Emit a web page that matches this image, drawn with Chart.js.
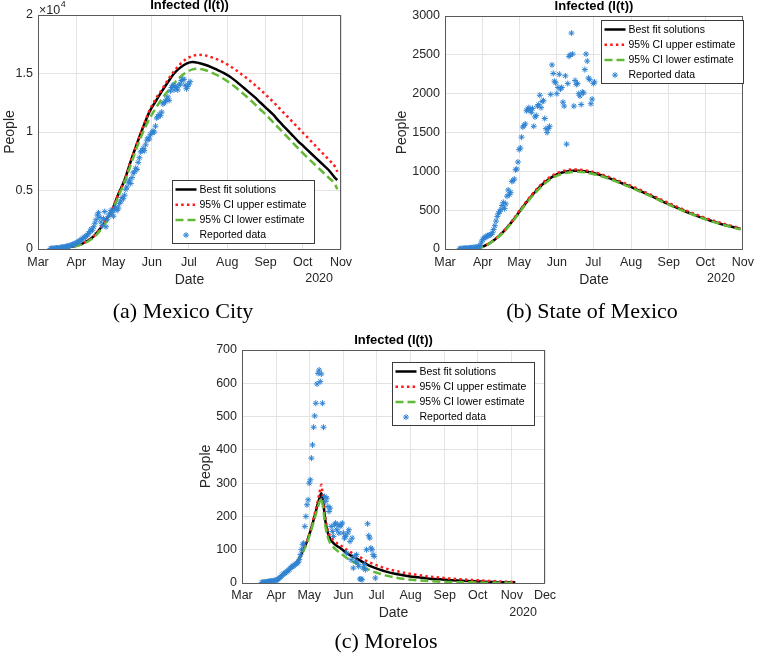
<!DOCTYPE html>
<html>
<head>
<meta charset="utf-8">
<script src="https://cdn.jsdelivr.net/npm/chart.js@4.4.0/dist/chart.umd.min.js"></script>
<style>
  body { margin: 0; background: #fff; width: 760px; height: 657px; position: relative; overflow: hidden; }
  canvas { position: absolute; }
  .cap { position: absolute; font-family: "Liberation Serif", serif; font-size: 22px; color: #000;
         text-align: center; width: 260px; line-height: 26px; white-space: nowrap; }
</style>
</head>
<body>
<canvas id="chartA" width="380" height="300" style="left:0;top:0"></canvas>
<canvas id="chartB" width="380" height="300" style="left:380px;top:0"></canvas>
<canvas id="chartC" width="380" height="310" style="left:190px;top:320px"></canvas>
<div class="cap" style="left:53px;top:298px">(a) Mexico City</div>
<div class="cap" style="left:462px;top:298px">(b) State of Mexico</div>
<div class="cap" style="left:256px;top:628px">(c) Morelos</div>
<script>
// x axis = days after 1 March 2020
const MONTHS = ['Mar', 'Apr', 'May', 'Jun', 'Jul', 'Aug', 'Sep', 'Oct', 'Nov', 'Dec'];
const MONTH_START = [0, 31, 61, 92, 122, 153, 184, 214, 245, 275];
const LEGEND_LABELS = ['Best fit solutions', '95% CI upper estimate', '95% CI lower estimate', 'Reported data'];

// (a) Mexico City
const cdmxFitDays = [10, 20, 30, 35, 40, 45, 50, 55, 60, 65, 70, 75, 80, 85, 90, 95, 100, 105, 110, 115, 120, 125, 130,
    135, 140, 145, 150, 155, 160, 165, 170, 175, 180, 185, 190, 195, 200, 205, 210, 215, 220, 225, 230, 235, 240, 242];
const cdmxBest = [30, 100, 260, 420, 700, 1080, 1700, 2450, 3350, 4700, 5900, 7500, 9000, 10400, 11700, 12600, 13450,
    14250, 15000, 15500, 15850, 15980, 15900, 15750, 15550, 15300, 15050, 14750, 14350, 13900, 13450, 13000, 12500,
    12000, 11500, 10900, 10350, 9800, 9250, 8750, 8250, 7750, 7250, 6750, 6100, 5900];
const cdmxUpper = [30, 100, 260, 420, 700, 1080, 1700, 2450, 3350, 4700, 5900, 7500, 9000, 10450, 11800, 12800, 13600,
    14450, 15200, 15800, 16250, 16500, 16600, 16550, 16400, 16200, 15950, 15650, 15300, 14900, 14500, 14050, 13600,
    13100, 12600, 12050, 11500, 10950, 10400, 9850, 9300, 8750, 8200, 7650, 7050, 6600];
const cdmxLower = [25, 90, 230, 380, 620, 980, 1550, 2300, 3200, 4500, 5700, 7200, 8700, 10000, 11100, 12000, 12800,
    13500, 14150, 14700, 15100, 15350, 15400, 15300, 15100, 14850, 14550, 14200, 13800, 13350, 12900, 12400, 11900,
    11400, 10850, 10300, 9750, 9200, 8650, 8100, 7600, 7100, 6600, 6100, 5550, 5100];
const cdmxDataStart = 10;
const cdmxReported = [30, 40, 50, 60, 70, 80, 90, 100, 110, 130, 150, 170, 190, 210, 240, 270, 300, 340, 380, 420, 470,
    520, 580, 650, 720, 800, 880, 960, 1050, 1100, 1200, 1350, 1500, 1700, 1600, 1900, 2200, 2500, 2900, 3100, 2700,
    2300, 2000, 2600, 3200, 1900, 2500, 2800, 3000, 3300, 3100, 2800, 3400, 3600, 3300, 3500, 3900, 4100, 4400, 4300,
    4600, 5100, 5300, 5700, 5900, 5600, 6100, 6500, 6600, 6900, 6800, 7400, 7800, 8300, 8400, 8600, 8400, 8900, 9300,
    9500, 9400, 9800, 9900, 10100, 10000, 10500, 11200, 11300, 11500, 11400, 11700, 12400, 12500, 12600, 12800, 13000,
    12700, 13500, 13800, 14000, 13600, 13900, 13800, 13600, 14000, 14100, 14400, 14500, 14500, 14000, 13700, 13900,
    14100, 14300];

// (b) State of Mexico
const edomexFitDays = [25, 30, 35, 40, 45, 50, 55, 60, 65, 70, 75, 80, 85, 90, 95, 100, 105, 110, 115, 120, 125, 130,
    135, 140, 145, 150, 155, 160, 165, 170, 175, 180, 185, 190, 195, 200, 205, 210, 215, 220, 225, 230, 235, 240, 243];
const edomexBest = [10, 25, 60, 110, 175, 255, 350, 455, 560, 660, 750, 830, 895, 945, 978, 998, 1008, 1008, 1000, 985,
    965, 940, 912, 882, 850, 818, 785, 750, 715, 680, 643, 605, 570, 535, 502, 470, 440, 410, 383, 357, 333, 310, 290,
    270, 258];
const edomexUpper = [10, 25, 62, 113, 180, 262, 358, 465, 572, 673, 765, 846, 912, 962, 995, 1015, 1023, 1022, 1014,
    999, 979, 954, 926, 896, 864, 832, 799, 765, 730, 695, 658, 620, 585, 550, 516, 484, 453, 423, 395, 369, 344, 321,
    300, 280, 267];
const edomexLower = [9, 23, 57, 106, 170, 248, 342, 445, 548, 647, 736, 815, 879, 928, 961, 982, 993, 994, 987, 973,
    954, 930, 903, 873, 842, 810, 777, 743, 708, 673, 637, 600, 565, 530, 497, 465, 435, 405, 378, 352, 328, 305, 285,
    265, 252];
const edomexDataStart = 12;
const edomexReported = [3, 4, 5, 8, 8, 10, 10, 12, 12, 15, 15, 18, 20, 20, 22, 25, 30, 50, 90, 120, 140, 150, 160, 170,
    175, 180, 190, 210, 250, 300, 360, 420, 460, 480, 510, 560, 600, 520, 580, 680, 760, 700, 730, 870, 880, 900, 1020,
    1030, 1120, 1280, 1300, 1440, 1570, 1590, 1610, 1780, 1800, 1820, 1790, 1760, 1810, 1580, 1700, 1720, 1840, 1860,
    1980, 1820, 1900, 1910, 1680, 1550, 1500, 1550, 1580, 1990, 2370, 2260, 2160, 2140, 2000, 2080, 2250, 2060, 2080,
    1890, 1840, 2230, 1350, 2130, 2480, 2500, 2780, 2510, 1840, 2170, 2120, 2130, 2000, 1970, 1860, 2020, 2010, 2310,
    2510, 2420, 2200, 2180, 1870, 1930, 2130, 2150];

// (c) Morelos
const morelosFitDays = [50, 53, 56, 59, 62, 65, 68, 70, 72, 73, 74, 75, 76, 77, 78, 80, 83, 86, 90, 95, 100, 105, 110,
    115, 120, 125, 130, 140, 150, 160, 170, 180, 190, 200, 210, 220, 230, 240, 248];
const morelosBest = [62, 80, 102, 125, 155, 190, 228, 252, 270, 258, 235, 205, 180, 162, 150, 133, 120, 112, 103, 90,
    80, 72, 62, 53, 46, 40, 35, 27, 21, 17, 13, 11, 8, 7, 5, 4, 3, 2, 2];
const morelosUpper = [62, 80, 102, 125, 157, 195, 235, 265, 295, 272, 245, 212, 188, 170, 156, 140, 128, 120, 112, 100,
    90, 82, 72, 63, 56, 50, 44, 36, 29, 24, 19, 16, 13, 11, 9, 7, 5, 4, 3];
const morelosLower = [60, 76, 98, 120, 150, 183, 218, 240, 255, 240, 215, 188, 165, 148, 136, 120, 108, 98, 88, 75, 65,
    56, 47, 40, 33, 28, 23, 16, 11, 8, 6, 4, 3, 2, 2, 1, 1, 1, 1];
const morelosDataStart = 18;
const morelosReported = [2, 2, 3, 3, 3, 4, 4, 5, 5, 6, 6, 7, 8, 8, 10, 12, 15, 18, 22, 25, 28, 30, 32, 35, 38, 40, 45,
    48, 50, 52, 55, 58, 60, 62, 70, 85, 100, 115, 120, 170, 200, 235, 250, 300, 310, 375, 415, 468, 502, 540, 598, 630,
    640, 605, 628, 540, 468, 260, 245, 255, 230, 215, 225, 170, 155, 140, 175, 180, 160, 175, 150, 170, 175, 180, 150,
    135, 140, 90, 150, 160, 125, 70, 135, 45, 80, 65, 85, 60, 50, 12, 12, 10, 45, 55, 40, 100, 178, 142, 135, 105, 100,
    85, 80, 15];

const BLACK = '#000000', RED = '#ff1a1a', GREEN = '#62b935', BLUE = '#2f83d3';
const TEXT = '#262626', GRID = '#e3e3e3', AXIS = '#5a5a5a';
const FONT = '"Liberation Sans", Arial, sans-serif';
const TICK_FONT = { family: FONT, size: 12.5 };
const AXIS_FONT = { family: FONT, size: 14 };

// box, title, year, exponent and legend (MATLAB style)
const decor = {
    id: 'decor',
    afterDatasetsDraw(chart, args, o) {
        const ctx = chart.ctx, a = chart.chartArea;
        ctx.save();
        ctx.strokeStyle = AXIS;
        ctx.lineWidth = 1;
        ctx.strokeRect(Math.round(a.left) + 0.5, Math.round(a.top) + 0.5, Math.round(a.width) - 1, Math.round(a.height));

        ctx.fillStyle = '#000';
        ctx.font = 'bold 13px ' + FONT;
        ctx.textAlign = 'center';
        ctx.textBaseline = 'middle';
        ctx.fillText('Infected (I(t))', (a.left + a.right) / 2, a.top - 10);

        ctx.fillStyle = TEXT;
        ctx.font = '12.5px ' + FONT;
        ctx.textAlign = 'right';
        ctx.fillText('2020', a.right - 8, a.bottom + 30);

        if (o.exponent) {
            ctx.textAlign = 'left';
            ctx.fillText('\u00d710', a.left + 1, a.top - 4);
            const w = ctx.measureText('\u00d710').width;
            ctx.font = '9px ' + FONT;
            ctx.fillText(o.exponent, a.left + 1.5 + w, a.top - 10);
        }

        // legend
        const bx = Math.round(a.left + o.legendX) + 0.5, by = Math.round(a.top + o.legendY) + 0.5;
        const bw = 142, bh = 63;
        ctx.fillStyle = '#fff';
        ctx.fillRect(bx, by, bw, bh);
        ctx.strokeStyle = '#3a3a3a';
        ctx.lineWidth = 1;
        ctx.strokeRect(bx, by, bw, bh);
        ctx.font = '10.5px ' + FONT;
        ctx.textAlign = 'left';
        ctx.textBaseline = 'middle';
        chart.data.datasets.forEach((ds, i) => {
            const y = by + 9 + i * 15.2;
            if (ds.showLine) {
                ctx.save();
                ctx.strokeStyle = ds.borderColor;
                ctx.lineWidth = ds.borderWidth;
                ctx.setLineDash(ds.borderDash);
                ctx.beginPath();
                ctx.moveTo(bx + 3, y);
                ctx.lineTo(bx + 24, y);
                ctx.stroke();
                ctx.restore();
            } else {
                ctx.strokeStyle = ds.borderColor;
                ctx.fillStyle = ds.backgroundColor;
                Chart.helpers.drawPoint(ctx, { pointStyle: 'star', radius: 3, borderWidth: 1 }, bx + 13.5, y);
            }
            ctx.fillStyle = '#000';
            ctx.fillText(ds.label, bx + 27, y + 0.5);
        });
        ctx.restore();
    }
};

function makeChart(id, p) {
    const pts = (days, vals) => vals.map((v, i) => ({ x: days[i], y: v }));
    const reportedDays = p.reported.map((_, i) => p.dataStart + i);
    const line = (label, vals, color, dash, order) => ({
        label, data: pts(p.fitDays, vals), showLine: true, borderColor: color, backgroundColor: color,
        borderWidth: 2.5, borderDash: dash, pointRadius: 0, cubicInterpolationMode: 'monotone', order
    });
    new Chart(document.getElementById(id), {
        type: 'scatter',
        data: {
            datasets: [
                line(LEGEND_LABELS[0], p.best, BLACK, [], 4),
                line(LEGEND_LABELS[1], p.upper, RED, [2.5, 3.2], 3),
                line(LEGEND_LABELS[2], p.lower, GREEN, [8, 4], 2),
                {
                    label: LEGEND_LABELS[3], data: pts(reportedDays, p.reported), pointStyle: 'star',
                    pointRadius: 3, borderColor: BLUE, backgroundColor: BLUE, borderWidth: 1, order: 1
                }
            ]
        },
        options: {
            responsive: false,
            animation: false,
            events: [],
            layout: { padding: p.pad },
            plugins: { legend: { display: false }, tooltip: { enabled: false }, decor: p.decor },
            scales: {
                x: {
                    type: 'linear', min: 0, max: p.xMax,
                    afterBuildTicks: s => { s.ticks = MONTH_START.filter(v => v <= p.xMax).map(v => ({ value: v })); },
                    afterFit: s => { s.height = p.xHeight; },
                    ticks: {
                        autoSkip: false, maxRotation: 0, padding: p.xTickPad, color: TEXT, font: TICK_FONT,
                        callback: v => MONTHS[MONTH_START.indexOf(v)]
                    },
                    grid: { color: GRID, drawTicks: false },
                    border: { display: false },
                    title: { display: true, text: 'Date', color: TEXT, font: AXIS_FONT, padding: { top: 0, bottom: p.xTitlePad } }
                },
                y: {
                    min: 0, max: p.yMax,
                    afterFit: s => { s.width = p.yWidth; },
                    ticks: { stepSize: p.yStep, padding: 5, color: TEXT, font: TICK_FONT, callback: p.yFmt },
                    grid: { color: GRID, drawTicks: false },
                    border: { display: false },
                    title: { display: true, text: 'People', color: TEXT, font: AXIS_FONT, padding: { top: p.yTitlePad, bottom: 0 } }
                }
            }
        },
        plugins: [decor]
    });
}

makeChart('chartA', {
    fitDays: cdmxFitDays, best: cdmxBest, upper: cdmxUpper, lower: cdmxLower,
    dataStart: cdmxDataStart, reported: cdmxReported,
    xMax: 245, yMax: 20000, yStep: 5000, yFmt: v => String(v / 10000),
    pad: { left: 0, top: 15, right: 39, bottom: 0 }, yWidth: 38, xHeight: 51,
    xTickPad: 6, xTitlePad: 11, yTitlePad: 2,
    decor: { exponent: '4', legendX: 134, legendY: 165 }
});

makeChart('chartB', {
    fitDays: edomexFitDays, best: edomexBest, upper: edomexUpper, lower: edomexLower,
    dataStart: edomexDataStart, reported: edomexReported,
    xMax: 245, yMax: 3000, yStep: 500, yFmt: v => String(v),
    pad: { left: 0, top: 16, right: 13, bottom: 0 }, yWidth: 65, xHeight: 51,
    xTickPad: 6, xTitlePad: 11, yTitlePad: 14,
    decor: { legendX: 156, legendY: 4 }
});

makeChart('chartC', {
    fitDays: morelosFitDays, best: morelosBest, upper: morelosUpper, lower: morelosLower,
    dataStart: morelosDataStart, reported: morelosReported,
    xMax: 275, yMax: 700, yStep: 100, yFmt: v => String(v),
    pad: { left: 0, top: 30, right: 25, bottom: 0 }, yWidth: 52, xHeight: 47,
    xTickPad: 5, xTitlePad: 8, yTitlePad: 8,
    decor: { legendX: 150, legendY: 12 }
});
</script>
</body>
</html>
